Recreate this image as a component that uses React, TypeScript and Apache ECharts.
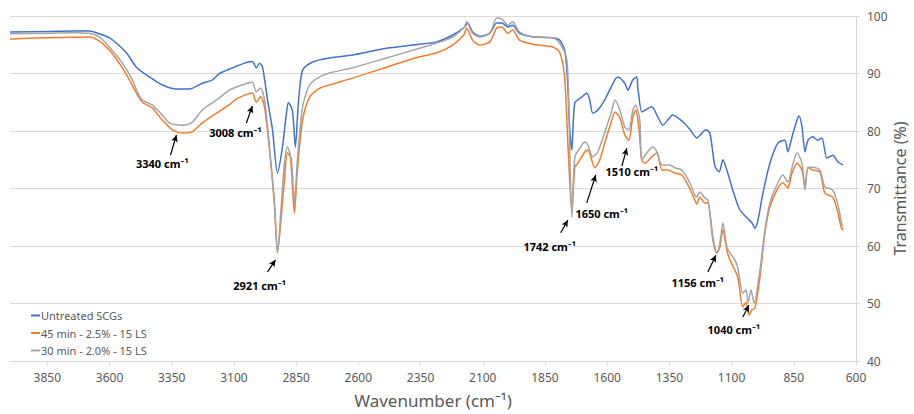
import React, { useEffect, useRef } from 'react';
import * as echarts from 'echarts';

const untreated: number[][] = [
  [4000, 97.2], [3850, 97.3], [3750, 97.4], [3681, 97.4], [3641, 96.9], [3600, 96.2], [3573, 95.3], [3532, 93.6],
  [3492, 91.1], [3440, 89.4], [3388, 88.0], [3331, 87.3], [3279, 87.3], [3227, 88.3], [3186, 88.9], [3158, 90.0],
  [3110, 90.9], [3050, 91.9], [3026, 92.1], [3010, 91.0], [2997, 91.8], [2985, 91.1], [2965, 85.4], [2945, 80.2],
  [2925, 72.7], [2905, 77.2], [2889, 83.1], [2881, 84.9], [2865, 83.6], [2853, 77.2], [2841, 84.9], [2824, 90.6],
  [2784, 92.0], [2716, 92.7], [2623, 93.2], [2487, 94.4], [2354, 95.1], [2285, 95.5], [2221, 96.7], [2175, 98.0],
  [2160, 98.8], [2141, 97.2], [2112, 96.5], [2072, 97.0], [2044, 98.8], [2024, 98.8], [1999, 98.1], [1980, 98.4],
  [1952, 97.0], [1899, 96.4], [1819, 96.2], [1791, 95.8], [1771, 94.1], [1760, 89.4], [1750, 80.0], [1742, 76.7],
  [1730, 84.9], [1702, 85.9], [1682, 86.6], [1670, 85.4], [1658, 83.1], [1638, 83.6], [1610, 85.4], [1569, 88.9],
  [1557, 89.4], [1529, 88.3], [1517, 87.1], [1497, 88.9], [1481, 89.4], [1477, 87.6], [1461, 83.3], [1449, 83.6],
  [1421, 84.2], [1396, 82.4], [1376, 81.0], [1336, 82.8], [1296, 81.6], [1268, 80.3], [1240, 78.8], [1203, 80.2],
  [1187, 79.6], [1167, 73.9], [1150, 72.9], [1135, 75.0], [1119, 73.2], [1095, 69.7], [1067, 66.3], [1038, 64.9],
  [1018, 64.0], [1006, 63.1], [994, 64.5], [974, 69.2], [946, 74.4], [914, 77.9], [886, 78.4], [874, 76.4],
  [857, 79.0], [837, 81.9], [829, 82.6], [817, 80.7], [805, 76.4], [793, 78.4], [773, 79.0], [753, 78.4],
  [737, 78.8], [717, 75.3], [693, 75.8], [672, 74.6], [652, 74.1],
];

const treated45: number[][] = [
  [4000, 96.0], [3850, 96.2], [3750, 96.3], [3681, 96.35], [3641, 95.65], [3601, 94.1], [3561, 91.8], [3520, 88.9],
  [3492, 86.6], [3468, 85.0], [3428, 84.0], [3388, 81.9], [3347, 80.2], [3307, 79.65], [3271, 79.8], [3227, 81.4],
  [3170, 83.1], [3118, 84.6], [3090, 85.6], [3040, 86.5], [3026, 86.6], [3010, 85.0], [2993, 86.0], [2977, 84.2],
  [2957, 76.7], [2937, 67.5], [2925, 58.8], [2910, 65.0], [2897, 71.5], [2885, 76.2], [2873, 75.5], [2857, 65.7],
  [2845, 73.2], [2824, 81.9], [2796, 85.9], [2756, 87.4], [2716, 88.0], [2623, 89.2], [2487, 91.1], [2354, 92.9],
  [2285, 93.6], [2221, 94.95], [2175, 96.8], [2165, 97.9], [2141, 95.8], [2112, 94.95], [2072, 95.5], [2044, 97.9],
  [2024, 98.1], [1999, 97.0], [1980, 97.6], [1952, 95.8], [1899, 95.1], [1819, 94.6], [1791, 93.7], [1771, 89.4],
  [1758, 77.9], [1742, 65.9], [1730, 73.7], [1718, 74.4], [1690, 76.35], [1678, 76.7], [1662, 74.95], [1650, 73.6],
  [1630, 74.95], [1610, 77.9], [1581, 81.9], [1569, 83.3], [1549, 82.3], [1529, 79.3], [1513, 78.4], [1497, 82.4],
  [1485, 83.65], [1473, 80.7], [1461, 74.95], [1449, 74.4], [1421, 75.5], [1400, 76.2], [1380, 73.2], [1356, 73.2],
  [1328, 72.7], [1300, 72.35], [1268, 70.0], [1248, 68.0], [1240, 67.3], [1228, 68.5], [1207, 67.5], [1195, 67.5],
  [1175, 61.0], [1159, 58.8], [1147, 59.8], [1135, 62.8], [1119, 59.3], [1107, 57.6], [1087, 55.8], [1075, 54.6],
  [1055, 49.4], [1042, 50.2], [1030, 48.0], [1018, 48.9], [1006, 49.2], [986, 54.6], [966, 62.3], [946, 66.8],
  [918, 69.7], [894, 71.0], [874, 70.1], [857, 72.7], [837, 74.4], [817, 73.2], [805, 70.3], [793, 73.6],
  [773, 73.2], [745, 72.9], [725, 69.2], [693, 68.5], [672, 65.7], [656, 62.8], [652, 63.1],
];

const treated30: number[][] = [
  [4000, 96.9], [3850, 97.0], [3750, 97.1], [3681, 97.0], [3641, 96.35], [3601, 94.6], [3548, 91.8], [3508, 88.9],
  [3488, 86.8], [3468, 85.4], [3428, 84.5], [3388, 82.8], [3359, 81.4], [3307, 81.0], [3271, 81.4], [3227, 83.65],
  [3170, 85.4], [3118, 87.1], [3090, 87.65], [3040, 88.4], [3026, 88.5], [3010, 86.8], [2993, 87.5], [2977, 85.4],
  [2957, 77.2], [2937, 66.8], [2925, 58.8], [2910, 67.0], [2897, 74.4], [2885, 77.2], [2869, 75.0], [2857, 67.5],
  [2845, 75.0], [2824, 84.2], [2796, 88.0], [2756, 89.4], [2716, 90.1], [2623, 91.0], [2487, 92.7], [2354, 94.4],
  [2285, 95.3], [2221, 96.35], [2175, 98.0], [2165, 99.0], [2141, 97.0], [2112, 96.35], [2072, 97.0], [2044, 99.65],
  [2024, 99.5], [1999, 98.4], [1980, 99.0], [1952, 97.2], [1899, 96.35], [1819, 96.2], [1791, 95.3], [1762, 92.35],
  [1752, 80.0], [1742, 65.0], [1730, 75.5], [1710, 77.0], [1690, 78.1], [1678, 77.6], [1658, 75.5], [1638, 76.35],
  [1610, 79.65], [1581, 83.65], [1569, 85.4], [1549, 83.65], [1529, 80.7], [1513, 80.2], [1497, 83.65], [1485, 84.5],
  [1469, 81.9], [1461, 74.95], [1441, 76.2], [1417, 77.2], [1400, 76.35], [1380, 74.1], [1348, 74.1], [1328, 73.6],
  [1300, 73.2], [1268, 71.0], [1248, 68.9], [1240, 68.5], [1228, 69.4], [1207, 68.35], [1195, 68.0], [1175, 61.6],
  [1159, 58.8], [1147, 60.5], [1135, 64.0], [1119, 59.8], [1107, 58.8], [1087, 57.6], [1075, 56.2], [1055, 51.8],
  [1042, 52.35], [1034, 50.1], [1022, 52.35], [1010, 50.1], [986, 55.8], [966, 62.8], [946, 67.5], [918, 70.6],
  [894, 72.35], [874, 71.1], [857, 73.7], [837, 76.2], [817, 74.4], [805, 69.7], [793, 73.7], [773, 73.7],
  [745, 73.2], [725, 70.3], [693, 69.7], [672, 67.1], [656, 63.65], [652, 63.3],
];

const seriesNames = ['Untreated SCGs', '45 min - 2.5% - 15 LS', '30 min - 2.0% - 15 LS'];
const seriesColors = ['#4472C4', '#ED7D31', '#A5A5A5'];

const xTickMin = 600;
const xTickMax = 4000;
const xTickStep = 250;
const yTickMin = 40;
const yTickMax = 100;
const yTickStep = 10;

// Peak annotations: label, text anchor (wavenumber, %T), arrow tail, arrow tip
const peakLabels = ['3340', '3008', '2921', '1742', '1650', '1510', '1156', '1040'];
const labelAnchors = [[3388, 74.4], [3094, 79.8], [2997, 53.2], [1831, 60.0], [1622, 65.7], [1501, 72.9], [1236, 53.6], [1091, 45.4]];
const arrowTails = [[3355, 75.8], [3050, 81.4], [2965, 55.5], [1787, 62.3], [1682, 67.5], [1541, 73.9], [1195, 55.5], [1055, 47.65]];
const arrowTips = [[3331, 79.3], [3026, 84.35], [2933, 57.6], [1758, 64.5], [1646, 72.35], [1521, 77.0], [1163, 58.4], [1030, 49.7]];

export default function App() {
  const ref = useRef<HTMLDivElement>(null);
  useEffect(() => {
    if (!ref.current) return;
    const chart = echarts.init(ref.current, null, { renderer: 'svg' });
    const font = "'Noto Sans', 'Open Sans', sans-serif";
    const lineSeries = [untreated, treated45, treated30].map((d, i) => ({
      name: seriesNames[i],
      type: 'line',
      data: d,
      showSymbol: false,
      symbol: 'none',
      smooth: 0.25,
      lineStyle: { color: seriesColors[i], width: 1.5 },
      itemStyle: { color: seriesColors[i] },
      z: 2 + i,
    }));
    const option: any = {
      animation: false,
      backgroundColor: '#ffffff',
      textStyle: { fontFamily: font },
      grid: { left: 10, right: 58, top: 16, bottom: 53, containLabel: false, outerBoundsMode: 'none' },
      legend: {
        data: seriesNames,
        orient: 'vertical',
        left: 26,
        top: 305,
        itemWidth: 9,
        itemHeight: 2,
        itemGap: 6.5,
        icon: 'rect',
        textStyle: { fontSize: 11, color: '#595959', fontFamily: font, padding: [0, 0, 0, -4] },
      },
      xAxis: {
        type: 'value',
        inverse: true,
        min: xTickMin,
        max: xTickMax,
        interval: xTickStep,
        name: 'Wavenumber (cm⁻¹)',
        nameLocation: 'middle',
        nameGap: 31,
        nameMoveOverlap: false,
        nameTextStyle: { fontSize: 17, color: '#595959', fontFamily: font },
        axisLine: { show: true, lineStyle: { color: '#D9D9D9', width: 1 } },
        axisTick: { show: true, length: 4, lineStyle: { color: '#D9D9D9' } },
        axisLabel: {
          color: '#595959', fontSize: 12, margin: 10, showMaxLabel: false, fontFamily: font,
          formatter: (v: number) => String(v),
        },
        splitLine: { show: false },
      },
      yAxis: {
        type: 'value',
        position: 'right',
        min: yTickMin,
        max: yTickMax,
        interval: yTickStep,
        name: 'Transmittance (%)',
        nameLocation: 'middle',
        nameRotate: 90,
        nameGap: 36,
        nameMoveOverlap: false,
        nameTextStyle: { fontSize: 16, color: '#595959', fontFamily: font },
        axisLine: { show: true, lineStyle: { color: '#D9D9D9', width: 1 } },
        axisTick: { show: true, length: 4, lineStyle: { color: '#D9D9D9' } },
        axisLabel: { color: '#595959', fontSize: 12, margin: 11, fontFamily: font, formatter: (v: number) => String(v) },
        splitLine: { show: true, lineStyle: { color: '#D9D9D9', width: 1 } },
      },
      series: [
        ...lineSeries,
        {
          name: 'annotations',
          type: 'scatter',
          data: labelAnchors.map((p, i) => [p[0], p[1], peakLabels[i]]),
          symbolSize: 1,
          itemStyle: { color: 'rgba(0,0,0,0)' },
          silent: true,
          z: 10,
          labelLayout: { hideOverlap: false },
          label: {
            show: true,
            position: 'inside',
            formatter: (p: any) => `${p.data[2]} cm⁻¹`,
            fontSize: 11,
            fontWeight: 'bold',
            color: '#000000',
            opacity: 1,
            fontFamily: font,
          },
          markLine: {
            silent: true,
            symbol: ['none', 'arrow'],
            symbolSize: [5, 7],
            label: { show: false },
            lineStyle: { color: '#000000', width: 1.2, type: 'solid' },
            data: arrowTails.map((t, i) => [
              { coord: t },
              { coord: arrowTips[i] },
            ]),
          },
        },
      ],
    };
    chart.setOption(option);
    return () => chart.dispose();
  }, []);
  return (
    <div
      ref={ref}
      style={{ position: 'fixed', left: 0, top: 0, width: 914, height: 414, background: '#fff' }}
    />
  );
}
